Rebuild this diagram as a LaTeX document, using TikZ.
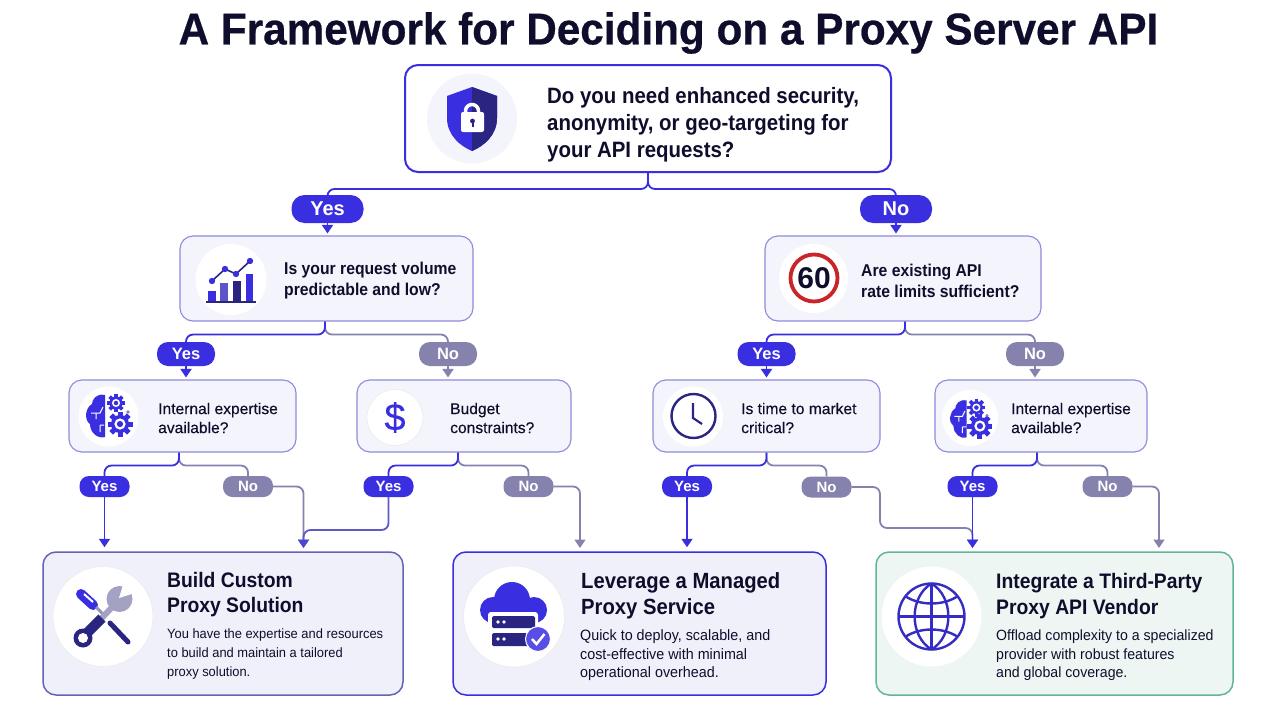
\documentclass[tikz,border=0pt]{standalone}
\usepackage{fontspec}
\setmainfont{Liberation Sans}
\newfontfamily\midfont{Liberation Sans}[FakeBold=0.3]
\newfontfamily\bodyfont{Liberation Sans}[FakeStretch=.955]
\newfontfamily\headfont{Liberation Sans}[BoldFeatures={FakeStretch=.92}]
\newfontfamily\titlefont{Liberation Sans}[BoldFeatures={FakeStretch=.95,FakeBold=.5}]
\usetikzlibrary{arrows.meta}

\definecolor{ink}{HTML}{0E0E2C}
\definecolor{royal}{HTML}{3A2FE0}
\definecolor{navy}{HTML}{2A2580}
\definecolor{slate}{HTML}{8583AE}
\definecolor{lilac}{HTML}{F4F4FD}
\definecolor{lilacB}{HTML}{F0F0FB}
\definecolor{edge}{HTML}{8E8ADE}
\definecolor{mint}{HTML}{EDF6F3}
\definecolor{sea}{HTML}{63B49C}
\definecolor{signred}{HTML}{C9252B}

\tikzset{
  box/.style={rounded corners=13pt, inner sep=0pt},
  topbox/.style={box, draw=royal, line width=2pt, fill=white},
  askbox/.style={box, draw=edge, line width=1.1pt, fill=lilac},
  endbox/.style={box, draw=#1, line width=1.5pt, fill=lilacB},
  pill/.style={inner sep=0pt, text=white},
  bigpill/.style={pill, rounded corners=13pt, minimum width=72pt, minimum height=28pt, font=\fontsize{20}{22}\selectfont\bfseries},
  midpill/.style={pill, rounded corners=11pt, minimum width=58pt, minimum height=24pt, font=\fontsize{16.5}{19}\selectfont\bfseries},
  smallpill/.style={pill, rounded corners=9.5pt, minimum width=50pt, minimum height=21pt, font=\fontsize{15}{17}\selectfont\bfseries},
  asktext/.style={anchor=west, align=left, text=ink, inner sep=0pt},
  headtext/.style={anchor=north west, align=left, text=ink, inner sep=0pt, font=\fontsize{21}{25.5}\selectfont\headfont\bfseries},
  bodytext/.style={anchor=north west, align=left, text=ink, inner sep=0pt, font=\fontsize{#1}{18.7}\selectfont\bodyfont},
  yesline/.style={draw=royal, line width=1.8pt, rounded corners=7pt},
  noline/.style={draw=slate, line width=1.8pt, rounded corners=7pt},
  yesarrow/.style={yesline, -{Triangle[width=11pt,length=8.5pt]}, shorten >=2pt},
  noarrow/.style={noline, -{Triangle[width=11pt,length=8.5pt]}, shorten >=2pt},
  disc/.style={fill=white, draw=black!7, line width=.7pt},
  pics/gear/.style={code={
    \fill[royal] (0,0) circle (#1*.72);
    \foreach \a in {0,45,...,315}
      \fill[royal, rotate=\a] (-#1*.2,#1*.6) rectangle (#1*.2,#1);
    \fill[white] (0,0) circle (#1*.45);
    \fill[royal] (0,0) circle (#1*.25);
  }},
  pics/brain/.style={code={
    \fill[royal] (-6,-21) .. controls (-15,-23) and (-19,-16) .. (-19,-12)
      .. controls (-26,-8) and (-27,4) .. (-21,8)
      .. controls (-21,17) and (-13,23) .. (-6,21) -- cycle;
    \draw[white, line width=1pt] (-20,-3) -- (-11,-3) -- (-8,-9) (-15,-3) -- (-15,3) (-11,9) -- (-11,16) (-11,9) -- (-7,9);
    \pic at (5,-13) {gear=9};
    \pic at (9,8) {gear=12.5};
    \fill[slate] (17,-4) circle (1.8);
  }},
}

\begin{document}
\begin{tikzpicture}[x=1pt, y=-1pt]

  \useasboundingbox (0,0) rectangle (1280,720);
  \fill[white!98!lilac] (0,0) rectangle (1280,720);

  \node[text=ink, font=\fontsize{44.5}{48}\selectfont\titlefont\bfseries, inner sep=0pt] (title) at (668.5,33) {A Framework for Deciding on a Proxy Server API};

  % boxes
  \node[topbox, minimum width=486pt, minimum height=107pt] (top) at (648,118.5) {};
  \node[askbox, minimum width=293pt, minimum height=85pt] (qvol) at (326.5,278.5) {};
  \node[askbox, minimum width=276pt, minimum height=85pt] (qrate) at (903,278.5) {};
  \node[askbox, minimum width=227pt, minimum height=72pt] (qskillA) at (182.5,416) {};
  \node[askbox, minimum width=214pt, minimum height=72pt] (qbudget) at (464,416) {};
  \node[askbox, minimum width=227pt, minimum height=72pt] (qtime) at (766.5,416) {};
  \node[askbox, minimum width=212pt, minimum height=72pt] (qskillB) at (1041,416) {};
  \node[endbox=edge!60!navy, minimum width=360pt, minimum height=143pt] (build) at (223,623.5) {};
  \node[endbox=royal, minimum width=373pt, minimum height=143pt] (managed) at (639.5,623.5) {};
  \node[endbox=sea, fill=mint, minimum width=357pt, minimum height=143pt] (vendor) at (1054.5,623.5) {};

  % pills
  \node[bigpill, fill=royal] (yesA) at (327.5,209) {Yes};
  \node[bigpill, fill=royal] (noA) at (896,209) {No};

  \node[midpill, fill=royal] (yesB) at (186,354) {Yes};
  \node[midpill, fill=slate] (noB) at (448,354) {No};
  \node[midpill, fill=royal] (yesC) at (766.5,354) {Yes};
  \node[midpill, fill=slate] (noC) at (1035,354) {No};

  \node[smallpill, fill=royal] (yesD) at (104.5,486.5) {Yes};
  \node[smallpill, fill=slate] (noD) at (248,486.5) {No};
  \node[smallpill, fill=royal] (yesE) at (388.5,486.5) {Yes};
  \node[smallpill, fill=slate] (noE) at (528.5,486.5) {No};
  \node[smallpill, fill=royal] (yesF) at (687,486.5) {Yes};
  \node[smallpill, fill=slate] (noF) at (826.5,487) {No};
  \node[smallpill, fill=royal] (yesG) at (972.5,486.5) {Yes};
  \node[smallpill, fill=slate] (noG) at (1107.5,486.5) {No};

  % connectors
  \coordinate (lowA) at (303.5,550);
  \coordinate (lowB) at (580,550);
  \coordinate (lowC) at (972.5,550);
  \coordinate (lowD) at (1159,550);
  \coordinate (bendA) at (303.5,530);
  \coordinate (bendB) at (880,487);
  \coordinate (bendC) at (880,528);
  \coordinate (bendD) at (972.5,528);

  \draw[yesline] (top.south) -- ++(0,16) -| (yesA.north);
  \draw[yesline] (top.south) -- ++(0,16) -| (noA.north);
  \draw[yesarrow] (yesA.south) -- (qvol.north -| yesA.south);
  \draw[yesarrow] (noA.south) -- (qrate.north -| noA.south);

  \draw[noline] ([xshift=-1.5pt]qvol.south) -- ++(0,13) -| (noB.north);
  \draw[yesline] ([xshift=-1.5pt]qvol.south) -- ++(0,13) -| (yesB.north);
  \draw[yesarrow] (yesB.south) -- (qskillA.north -| yesB.south);
  \draw[noarrow] (noB.south) -- (qbudget.north -| noB.south);

  \draw[noline] ([xshift=2pt]qrate.south) -- ++(0,13) -| (noC.north);
  \draw[yesline] ([xshift=2pt]qrate.south) -- ++(0,13) -| (yesC.north);
  \draw[yesarrow] (yesC.south) -- (qtime.north -| yesC.south);
  \draw[noarrow] (noC.south) -- (qskillB.north -| noC.south);

  \draw[noline] ([xshift=-3.5pt]qskillA.south) -- ++(0,13) -| (noD.north);
  \draw[yesline] ([xshift=-3.5pt]qskillA.south) -- ++(0,13) -| (yesD.north);
  \draw[noline] ([xshift=-6pt]qbudget.south) -- ++(0,13) -| (noE.north);
  \draw[yesline] ([xshift=-6pt]qbudget.south) -- ++(0,13) -| (yesE.north);
  \draw[noline] (qtime.south) -- ++(0,13) -| (noF.north);
  \draw[yesline] (qtime.south) -- ++(0,13) -| (yesF.north);
  \draw[noline] ([xshift=-4pt]qskillB.south) -- ++(0,13) -| (noG.north);
  \draw[yesline] ([xshift=-4pt]qskillB.south) -- ++(0,13) -| (yesG.north);

  \draw[yesarrow, shorten >=4pt] (yesD.south) -- (build.north -| yesD.south);
  \draw[noarrow] (noD.east) -| (lowA);
  \draw[noline, draw=royal!50!slate, -{Triangle[width=11pt,length=8.5pt,color=royal!75!slate]}, shorten >=2pt] (yesE.south) |- (bendA) -- (lowA);
  \draw[noarrow] (noE.east) -| (lowB);
  \draw[yesarrow, shorten >=4pt] (yesF.south) -- (managed.north -| yesF.south);
  \draw[noarrow] (noF.east) -- (bendB) -- (bendC) -- (bendD) -- (lowC);
  \draw[yesarrow] (yesG.south) -- (lowC);
  \draw[noarrow] (noG.east) -| (lowD);

  % icon discs
  \fill[lilac] (472,118.5) circle (45);
  \fill[white] (231,279.5) circle (35.5);
  \fill[white] (813.5,278.5) circle (34.5);
  \fill[white] (108.5,416.5) circle (30);
  \filldraw[disc] (395,417.5) circle (28);
  \fill[white] (693,416.5) circle (30);
  \fill[white] (970,418) circle (28);
  \filldraw[disc] (103,616.5) circle (50);
  \filldraw[disc] (514,616.5) circle (50.5);
  \fill[white] (931.5,616.5) circle (50);

  % shield
  \fill[royal] (472,87) -- (497,96) -- (497,118) .. controls (497,135) and (484,146) .. (472,151)
    .. controls (460,146) and (447,135) .. (447,118) -- (447,96) -- cycle;
  \fill[navy] (472,87) -- (497,96) -- (497,118) .. controls (497,135) and (484,146) .. (472,151) -- cycle;
  \draw[white, line width=3.5pt] (465.5,114) -- (465.5,111) arc (180:360:6.5) -- (478.5,114);
  \fill[white, rounded corners=2pt] (461,112) rectangle (484,132);
  \fill[navy] (472.5,121) circle (2.4);
  \fill[navy] (471.5,121) rectangle (473.5,126.5);

  % chart
  \fill[royal] (208,291) rectangle (216,302);
  \fill[royal!55!slate] (220,283) rectangle (228,302);
  \fill[navy] (233,281) rectangle (241,302);
  \fill[royal] (246,274) rectangle (253,302);
  \draw[navy, line width=1.5pt] (206,302) -- (256,302);
  \draw[navy, line width=1.6pt] (212,281) -- (225,269) -- (236,274) -- (250,261);
  \foreach \x/\y in {212/281, 225/269, 236/274, 250/261}
    \fill[royal] (\x,\y) circle (3.2);

  % speed limit
  \draw[signred, line width=3.8pt] (814,278) circle (23.5);
  \node[text=ink, inner sep=0pt, font=\fontsize{30}{32}\selectfont\bfseries] (sixty) at (814,278) {60};

  % brains
  \pic at (111,416) {brain};
  \pic[scale=.88] at (972,419) {brain};

  % dollar
  \node[text=royal, inner sep=0pt, font=\fontsize{38}{40}\selectfont\midfont] (dollar) at (395,417.5) {\$};

  % clock
  \draw[navy, line width=2.4pt] (693.5,416) circle (22);
  \draw[navy, line width=2.2pt] (693,403) -- (693,418) -- (702,424);

  % tools
  \draw[navy, line width=5pt, line cap=round] (110,623) -- (128,642);
  \draw[royal, line width=10pt, line cap=round] (81,594) -- (93,605);
  \draw[white, line width=2pt] (84,594) -- (93,602);
  \draw[slate!85!white, line width=3pt] (96,607) -- (106,617);
  \draw[slate!75!white, line width=6pt] (100,620) -- (115,604);
  \fill[slate!75!white] (119.5,599) circle (13);
  \fill[white] (119,598) -- (124,582) -- (138,592) -- cycle;
  \draw[navy, line width=10pt] (84,636) -- (102,618);
  \fill[navy] (83,638) circle (9.5);
  \fill[white] (83,638) circle (5);

  % cloud server
  \fill[royal] (493,610) circle (13) (512,600) circle (18) (534,610) circle (13);
  \fill[royal] (493,606) rectangle (534,623);
  \fill[white, rounded corners=3pt] (488,612) rectangle (538,632);
  \fill[navy, rounded corners=1.5pt] (492,616) rectangle (535,628);
  \fill[navy, rounded corners=1.5pt] (492,633) rectangle (535,646);
  \foreach \y in {622,639} {
    \fill[white] (498,\y) circle (1.8);
    \fill[white] (504,\y) circle (1.8);
  }
  \filldraw[fill=royal!85!white, draw=white, line width=1pt] (538,639) circle (12.5);
  \draw[white, line width=2.5pt] (532,639) -- (536.5,644) -- (544.5,634);

  % globe
  \begin{scope}[royal!70!navy, line width=2.4pt]
    \draw (931.5,616.5) circle (33);
    \draw (931.5,583.5) -- (931.5,649.5) (898.5,616.5) -- (964.5,616.5);
    \draw (931.5,583.5) .. controls (909,597) and (909,636) .. (931.5,649.5);
    \draw (931.5,583.5) .. controls (954,597) and (954,636) .. (931.5,649.5);
    \draw (905,596) .. controls (920,606) and (943,606) .. (958,596);
    \draw (905,637) .. controls (920,627) and (943,627) .. (958,637);
  \end{scope}

  % texts
  \node[asktext, font=\fontsize{22.2}{27}\selectfont\headfont\bfseries] (toptext) at (547,124.5) {Do you need enhanced security,\\anonymity, or geo-targeting for\\your API requests?};
  \node[asktext, font=\fontsize{17.1}{21}\selectfont\headfont\bfseries] (voltext) at (284,281) {Is your request volume\\predictable and low?};
  \node[asktext, font=\fontsize{17.1}{21}\selectfont\headfont\bfseries] (ratetext) at (861,281) {Are existing API\\rate limits sufficient?};
  \node[asktext, font=\fontsize{15.6}{19}\selectfont\midfont] (skillAtext) at (158,418) {Internal expertise\\available?};
  \node[asktext, font=\fontsize{15.6}{19}\selectfont\midfont] (budgettext) at (450,418) {Budget\\constraints?};
  \node[asktext, font=\fontsize{15.6}{19}\selectfont\midfont] (timetext) at (741,418) {Is time to market\\critical?};
  \node[asktext, font=\fontsize{15.6}{19}\selectfont\midfont] (skillBtext) at (1011,418) {Internal expertise\\available?};

  \node[headtext] (buildhead) at (167,572) {Build Custom\\Proxy Solution};
  \node[bodytext=13.5] (buildtext) at (167,629) {You have the expertise and resources\\to build and maintain a tailored\\proxy solution.};
  \node[headtext, font=\fontsize{22}{25.5}\selectfont\headfont\bfseries] (managedhead) at (581,572.5) {Leverage a Managed\\Proxy Service};
  \node[bodytext=15] (managedtext) at (580,629.5) {Quick to deploy, scalable, and\\cost-effective with minimal\\operational overhead.};
  \node[headtext] (vendorhead) at (996,573.5) {Integrate a Third-Party\\Proxy API Vendor};
  \node[bodytext=14.8] (vendortext) at (996,629.5) {Offload complexity to a specialized\\provider with robust features\\and global coverage.};

\end{tikzpicture}
\end{document}
